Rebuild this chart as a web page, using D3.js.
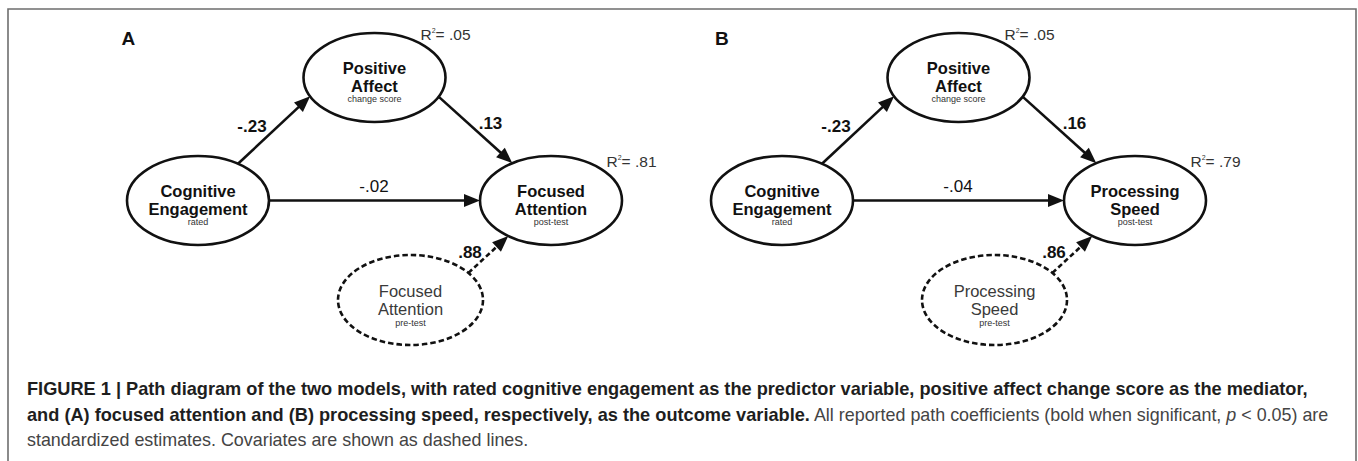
<!DOCTYPE html>
<html>
<head>
<meta charset="utf-8">
<script src="https://cdn.jsdelivr.net/npm/d3@7"></script>
<style>
  body { margin: 0; background: #fff; }
  svg { display: block; font-family: "Liberation Sans", Arial, Helvetica, sans-serif; }
</style>
</head>
<body>
<svg id="chart"></svg>
<script>
// panels and node names
let panels = ["A", "B"]
let predictorName = ["Cognitive", "Engagement"]
let predictorSub = "rated"
let mediatorName = ["Positive", "Affect"]
let mediatorSub = "change score"
let outcomeNames = [["Focused", "Attention"], ["Processing", "Speed"]]
let outcomeSub = "post-test"
let covariateSub = "pre-test"

// path coefficients per panel
let pathA = [-0.23, -0.23]      // predictor -> mediator
let pathB = [0.13, 0.16]        // mediator -> outcome
let pathC = [-0.02, -0.04]      // predictor -> outcome
let pathCov = [0.88, 0.86]      // covariate -> outcome
let significant = {a: true, b: true, c: false, cov: true}

// explained variance
let r2Mediator = [0.05, 0.05]
let r2Outcome = [0.81, 0.79]

let svgWidth = 1358,
    svgHeight = 461

let svg = d3.select('#chart')
    .attr('width', svgWidth)
    .attr('height', svgHeight)

// frame round the figure (open at the bottom)
svg.append('path')
    .attr('d', `M8,${svgHeight + 5} L8,9 L1356,9 L1356,${svgHeight + 5}`)
    .attr('fill', 'none')
    .attr('stroke', '#6e6e6e')
    .attr('stroke-width', 1.6)

// panel offsets
let panelX = d3.scalePoint().domain(panels).range([0, 584])

// node layout inside one panel
let rx = 71, ry = 44.5
let layout = {
    pred: {cx: 198, cy: 200.5},
    med:  {cx: 374.5, cy: 77.5},
    out:  {cx: 551, cy: 200.5},
    cov:  {cx: 410.5, cy: 300, rx: 72.5, ry: 45}
}

// -.23 style, plain hyphen
let fmt = v => d3.format('.2f')(v).replace('\u2212', '-').replace('0.', '.')
let rad = d => d * Math.PI / 180

// point on an ellipse at a parametric angle
function onEllipse(node, deg) {
    let ex = node.rx || rx, ey = node.ry || ry
    return [node.cx + ex * Math.cos(rad(deg)), node.cy + ey * Math.sin(rad(deg))]
}

function drawNode(g, node, lines, sub, opts) {
    let ng = g.append('g')
    ng.append('ellipse')
        .attr('cx', node.cx).attr('cy', node.cy)
        .attr('rx', node.rx || rx).attr('ry', node.ry || ry)
        .attr('fill', '#fff')
        .attr('stroke', '#111')
        .attr('stroke-width', 2.6)
        .attr('stroke-dasharray', opts.dashed ? '5.5,3' : null)
    ng.selectAll('text.line')
        .data(lines)
        .enter()
        .append('text')
        .attr('class', 'line')
        .attr('x', node.cx)
        .attr('y', (d, i) => node.cy + (i === 0 ? -4 : 14) + (opts.dy || 0))
        .attr('text-anchor', 'middle')
        .attr('font-size', 16.5)
        .attr('font-weight', opts.dashed ? 400 : 700)
        .attr('fill', opts.dashed ? '#3a3a3a' : '#111')
        .text(d => d)
    ng.append('text')
        .attr('x', node.cx)
        .attr('y', node.cy + 24.5 + (opts.dy || 0))
        .attr('text-anchor', 'middle')
        .attr('font-size', 9)
        .attr('fill', '#333')
        .text(sub)
}

function drawArrow(g, p0, p1, dashed) {
    let dx = p1[0] - p0[0], dy = p1[1] - p0[1]
    let len = Math.hypot(dx, dy)
    let ux = dx / len, uy = dy / len
    let headLen = 16, headHalf = 6.5
    let base = [p1[0] - ux * headLen, p1[1] - uy * headLen]
    g.append('line')
        .attr('x1', p0[0]).attr('y1', p0[1])
        .attr('x2', base[0] + ux * 2).attr('y2', base[1] + uy * 2)
        .attr('stroke', '#111')
        .attr('stroke-width', 2.6)
        .attr('stroke-dasharray', dashed ? '5,3' : null)
    let pts = [
        p1,
        [base[0] - uy * headHalf, base[1] + ux * headHalf],
        [base[0] + uy * headHalf, base[1] - ux * headHalf]
    ]
    g.append('path')
        .attr('d', d3.line()(pts) + 'Z')
        .attr('fill', '#111')
}

function coefLabel(g, x, y, v, bold) {
    g.append('text')
        .attr('x', x).attr('y', y)
        .attr('text-anchor', 'middle')
        .attr('font-size', 17)
        .attr('font-weight', bold ? 700 : 400)
        .attr('fill', '#111')
        .text(fmt(v))
}

function r2Label(g, x, y, v) {
    let t = g.append('text')
        .attr('x', x).attr('y', y)
        .attr('font-size', 15.5)
        .attr('fill', '#333')
    t.append('tspan').text('R')
    t.append('tspan').attr('font-size', 7).attr('dy', -7).text('2')
    t.append('tspan').attr('dy', 7).text('= ' + fmt(v))
}

panels.forEach((p, i) => {
    let g = svg.append('g')
        .attr('transform', `translate(${panelX(p)},0)`)

    // panel letter
    g.append('text')
        .attr('x', i === 0 ? 121.5 : 131)
        .attr('y', 45)
        .attr('font-size', 19)
        .attr('font-weight', 700)
        .attr('fill', '#111')
        .text(p)

    // arrows
    drawArrow(g, onEllipse(layout.pred, -55.7), onEllipse(layout.med, 155), false)
    drawArrow(g, onEllipse(layout.med, 25.5), onEllipse(layout.out, -123), false)
    drawArrow(g, onEllipse(layout.pred, 0), onEllipse(layout.out, 180), false)
    drawArrow(g, onEllipse(layout.cov, -37), onEllipse(layout.out, 127), true)

    // nodes
    drawNode(g, layout.pred, predictorName, predictorSub, {})
    drawNode(g, layout.med, mediatorName, mediatorSub, {})
    drawNode(g, layout.out, outcomeNames[i], outcomeSub, {})
    drawNode(g, layout.cov, outcomeNames[i], covariateSub, {dashed: true, dy: 1})

    // coefficients
    coefLabel(g, 252, 132, pathA[i], significant.a)
    coefLabel(g, 490.5, 128.5, pathB[i], significant.b)
    coefLabel(g, 374, 191.5, pathC[i], significant.c)
    coefLabel(g, 470, 257.5, pathCov[i], significant.cov)

    // R squared
    r2Label(g, 420.5, 39.5, r2Mediator[i])
    r2Label(g, 606.5, 167, r2Outcome[i])
})

// caption
let cap = svg.append('text')
    .attr('fill', '#222')

let capLines = [
    [{t: 'FIGURE 1 | Path diagram of the two models, with rated cognitive engagement as the predictor variable, positive affect change score as the mediator,', b: true}],
    [{t: 'and (A) focused attention and (B) processing speed, respectively, as the outcome variable.', b: true},
     {t: ' All reported path coefficients (bold when significant, ', b: false},
     {t: 'p', b: false, it: true},
     {t: ' < 0.05) are', b: false}],
    [{t: 'standardized estimates. Covariates are shown as dashed lines.', b: false}]
]
let capY = [395, 420.5, 445.5]

capLines.forEach((line, li) => {
    line.forEach((seg, si) => {
        let ts = cap.append('tspan')
            .attr('font-size', seg.b ? 18.2 : 17.9)
            .attr('font-weight', seg.b ? 700 : 400)
            .attr('font-style', seg.it ? 'italic' : null)
            .attr('fill', seg.b ? '#1e1e1e' : '#444')
            .text(seg.t)
        if (si === 0) ts.attr('x', 27).attr('y', capY[li])
    })
})
</script>
</body>
</html>
